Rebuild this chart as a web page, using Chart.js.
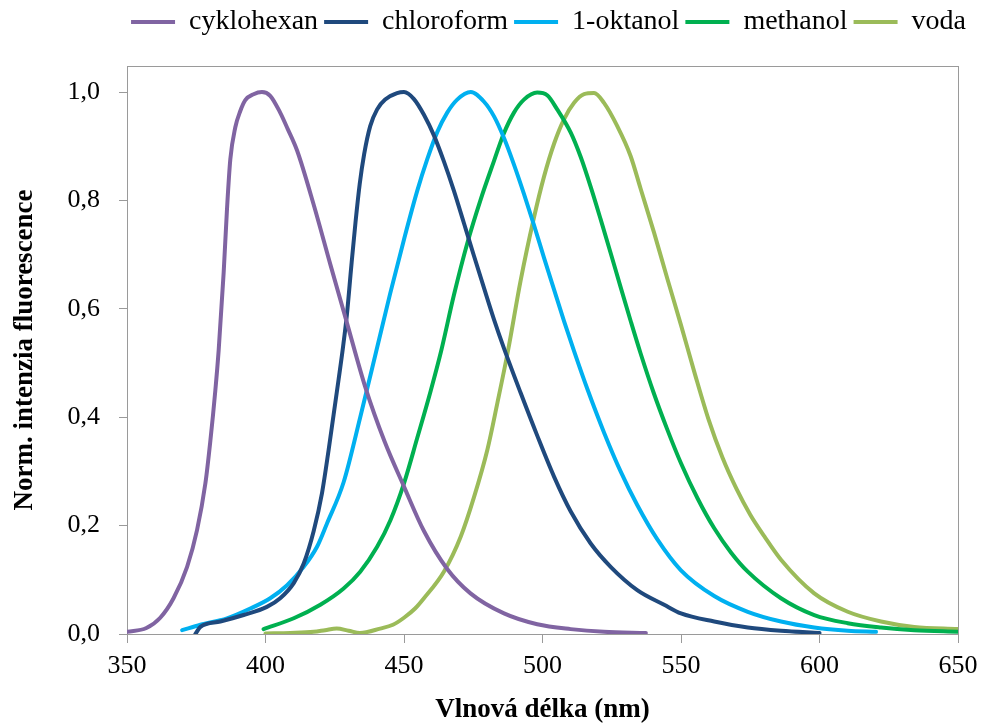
<!DOCTYPE html>
<html>
<head>
<meta charset="utf-8">
<script src="https://cdn.jsdelivr.net/npm/chart.js@4/dist/chart.umd.min.js"></script>
<style>
  html, body { margin: 0; padding: 0; background: #ffffff; }
  #wrap { width: 982px; height: 724px; }
</style>
</head>
<body>
<div id="wrap"><canvas id="c" width="982" height="724"></canvas></div>
<script>
// ---- data ----
const seriesNames = ['cyklohexan', 'chloroform', '1-oktanol', 'methanol', 'voda'];

const cyklohexanX = [350, 357, 362, 366.8, 371.7, 375.3, 378.3, 380, 381.9, 383.1, 384.9, 386.1, 387.3, 389.1, 390.9, 392.7, 395.7, 398.7, 401.7, 405.3, 408, 411.4, 417.4, 423.4, 429.4, 436, 443, 450, 457.2, 465.6, 474, 486.1, 498.1, 510.2, 522.2, 537.3];
const cyklohexanY = [0.004, 0.011, 0.03, 0.066, 0.124, 0.192, 0.278, 0.352, 0.45, 0.524, 0.667, 0.784, 0.876, 0.935, 0.965, 0.985, 0.996, 1.0, 0.993, 0.962, 0.932, 0.892, 0.792, 0.682, 0.574, 0.456, 0.355, 0.272, 0.19, 0.12, 0.075, 0.038, 0.018, 0.009, 0.004, 0.002];

const chloroformX = [374.7, 376.5, 383.7, 392.1, 400.5, 405.3, 410.2, 413.8, 417.4, 420.4, 422.8, 424.6, 426.4, 428, 429.4, 431, 432.5, 434, 435.6, 437.8, 440.3, 443.2, 447.5, 450, 453.6, 457.2, 460.8, 464.4, 468, 471.7, 475.3, 478.9, 482.5, 486.1, 492.1, 498.1, 504.2, 510.2, 517.4, 524.6, 534.2, 543.9, 550, 562, 574.1, 586.1, 600];
const chloroformY = [0, 0.013, 0.023, 0.035, 0.05, 0.066, 0.094, 0.13, 0.19, 0.26, 0.34, 0.405, 0.47, 0.53, 0.59, 0.68, 0.76, 0.83, 0.885, 0.937, 0.968, 0.986, 0.998, 1.0, 0.987, 0.958, 0.92, 0.872, 0.818, 0.757, 0.697, 0.638, 0.58, 0.527, 0.445, 0.366, 0.29, 0.226, 0.167, 0.124, 0.081, 0.054, 0.038, 0.023, 0.012, 0.006, 0.002];

const oktanolX = [369.9, 376.5, 386.1, 394.5, 401.7, 407.8, 413.8, 418.6, 422.2, 428.2, 434.2, 440, 445, 450, 454.8, 458.4, 462, 465.6, 469.2, 474.1, 478.9, 482.5, 486.1, 489.7, 493.3, 496.9, 500.5, 504.2, 507.8, 511.4, 516.2, 522.2, 528.2, 534.2, 541.4, 549.9, 562, 574.1, 586.1, 598.1, 610.2, 620.4];
const oktanolY = [0.007, 0.017, 0.029, 0.047, 0.066, 0.09, 0.124, 0.161, 0.204, 0.28, 0.4, 0.522, 0.628, 0.728, 0.818, 0.876, 0.926, 0.962, 0.986, 1.0, 0.982, 0.955, 0.915, 0.866, 0.812, 0.755, 0.695, 0.635, 0.577, 0.522, 0.452, 0.372, 0.3, 0.238, 0.175, 0.118, 0.07, 0.041, 0.023, 0.012, 0.006, 0.004];

const methanolX = [399.3, 410.2, 419.8, 428.2, 434.2, 440.3, 445.1, 450, 454.8, 459.6, 463.5, 468, 472.9, 477.7, 482.5, 486, 489.7, 493.3, 498.1, 501.7, 505.3, 510.2, 513.8, 517.4, 521, 524.6, 528.2, 531.8, 535.4, 540, 545, 550, 556, 562, 568.1, 574.1, 586.1, 598.1, 610.2, 622.2, 634.2, 650];
const methanolY = [0.009, 0.029, 0.054, 0.084, 0.115, 0.161, 0.21, 0.278, 0.362, 0.448, 0.524, 0.625, 0.722, 0.802, 0.873, 0.923, 0.962, 0.986, 0.999, 0.994, 0.968, 0.925, 0.88, 0.825, 0.765, 0.703, 0.64, 0.578, 0.518, 0.447, 0.378, 0.315, 0.25, 0.195, 0.15, 0.115, 0.066, 0.035, 0.02, 0.012, 0.007, 0.004];

const vodaX = [400, 409, 417.4, 421.5, 425.7, 430, 434.1, 441.4, 446, 450, 454, 457.2, 464.4, 470.5, 475.3, 480.1, 483.7, 487.6, 492.1, 496.9, 500.5, 504.2, 507.8, 511.4, 515, 518.6, 522.2, 527, 531.8, 535.4, 540.3, 545.1, 550, 555, 560, 565, 570, 575, 580.1, 586.1, 598.1, 610.2, 622.2, 634.2, 650];
const vodaY = [0.001, 0.002, 0.004, 0.007, 0.01, 0.006, 0.002, 0.01, 0.017, 0.03, 0.047, 0.066, 0.115, 0.18, 0.253, 0.34, 0.426, 0.524, 0.652, 0.768, 0.843, 0.905, 0.95, 0.98, 0.996, 0.998, 0.98, 0.937, 0.882, 0.822, 0.74, 0.655, 0.57, 0.48, 0.395, 0.325, 0.268, 0.22, 0.18, 0.137, 0.075, 0.041, 0.023, 0.013, 0.009];

const xTicks = [350, 400, 450, 500, 550, 600, 650];
const yTicks = [0, 0.2, 0.4, 0.6, 0.8, 1.0];

const xTitle = 'Vlnová délka (nm)';
const yTitle = 'Norm. intenzia fluorescence';

// ---- styling ----
const colors = ['#8064A2', '#1F497D', '#00B0F0', '#00B050', '#9BBB59'];
const FONT = '"Liberation Serif", "Times New Roman", serif';
const AXIS_GREY = '#9a9a9a';

function pts(xs, ys) { return xs.map((x, i) => ({ x: x, y: ys[i] })); }
const allX = [cyklohexanX, chloroformX, oktanolX, methanolX, vodaX];
const allY = [cyklohexanY, chloroformY, oktanolY, methanolY, vodaY];

const datasets = seriesNames.map((name, i) => ({
  label: name,
  data: pts(allX[i], allY[i]),
  borderColor: colors[i],
  backgroundColor: colors[i],
  borderWidth: 4,
  pointRadius: 0,
  fill: false,
  cubicInterpolationMode: 'monotone',
  borderCapStyle: 'round',
  borderJoinStyle: 'round'
}));

const framePlugin = {
  id: 'frame',
  beforeDatasetsDraw(chart) {
    const a = chart.chartArea, ctx = chart.ctx;
    ctx.save();
    ctx.strokeStyle = AXIS_GREY;
    ctx.lineWidth = 1;
    ctx.strokeRect(Math.round(a.left) + 0.5, Math.round(a.top) + 0.5, Math.round(a.right - a.left), Math.round(a.bottom - a.top));
    ctx.restore();
  }
};

// extra space between the legend and the plot area, and a small shift to the right
const legendGap = {
  id: 'legendGap',
  beforeInit(chart) {
    const origFit = chart.legend.fit;
    chart.legend.fit = function () {
      origFit.call(this);
      this.height += 20;
    };
  },
  afterLayout(chart) {
    const lg = chart.legend;
    lg.left += 14;
    lg.right += 14;
    if (typeof lg.adjustHitBoxes === 'function') lg.adjustHitBoxes();
  }
};

new Chart(document.getElementById('c'), {
  type: 'line',
  data: { datasets: datasets },
  plugins: [framePlugin, legendGap],
  options: {
    responsive: false,
    devicePixelRatio: 1,
    animation: false,
    layout: { padding: { left: 0, right: 24, top: 2, bottom: 0 } },
    plugins: {
      legend: {
        position: 'top',
        align: 'end',
        labels: {
          font: { family: FONT, size: 28 },
          color: '#000',
          boxWidth: 44,
          boxHeight: 4,
          padding: 6,
          generateLabels(chart) {
            return chart.data.datasets.map((ds, i) => ({
              text: ds.label,
              fillStyle: ds.borderColor,
              strokeStyle: ds.borderColor,
              lineWidth: 0,
              hidden: false,
              datasetIndex: i,
              fontColor: '#000'
            }));
          }
        }
      },
      tooltip: { enabled: false }
    },
    scales: {
      x: {
        type: 'linear',
        min: 350,
        max: 650,
        afterBuildTicks(scale) { scale.ticks = xTicks.map(v => ({ value: v })); },
        afterFit(scale) { scale.height = 90; scale.paddingLeft = 0; scale.paddingRight = 0; },
        ticks: {
          font: { family: FONT, size: 26 },
          color: '#000',
          padding: 8,
          maxRotation: 0,
          callback: v => String(v)
        },
        grid: { display: true, drawOnChartArea: false, drawTicks: true, tickLength: 9, color: AXIS_GREY },
        border: { display: true, color: AXIS_GREY },
        title: {
          display: true,
          text: xTitle,
          font: { family: FONT, size: 27, weight: 'bold', lineHeight: 1.0 },
          color: '#000',
          padding: { top: 0, bottom: 0 }
        }
      },
      y: {
        type: 'linear',
        min: 0,
        max: 1.048,
        afterBuildTicks(scale) { scale.ticks = yTicks.map(v => ({ value: v })); },
        afterFit(scale) { scale.width = 127; scale.paddingTop = 0; scale.paddingBottom = 0; },
        ticks: {
          font: { family: FONT, size: 26 },
          color: '#000',
          padding: 19,
          callback: v => Number(v).toFixed(1).replace('.', ',')
        },
        grid: { display: true, drawOnChartArea: false, drawTicks: true, tickLength: 8, color: AXIS_GREY },
        border: { display: true, color: AXIS_GREY },
        title: {
          display: true,
          text: yTitle,
          font: { family: FONT, size: 27, weight: 'bold', lineHeight: 1.0 },
          color: '#000',
          padding: { top: 12, bottom: 0 }
        }
      }
    }
  }
});
</script>
</body>
</html>
